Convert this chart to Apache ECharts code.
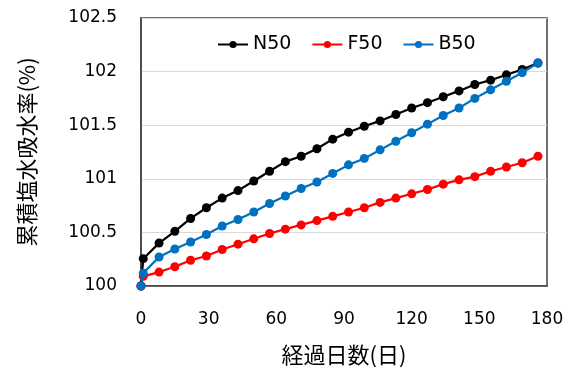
<!DOCTYPE html>
<html>
<head>
<meta charset="utf-8">
<script src="https://cdn.jsdelivr.net/npm/echarts@6/dist/echarts.min.js"></script>
<style>
html,body{margin:0;padding:0;background:#fff;}
#c{width:573px;height:371px;}
</style>
</head>
<body>
<div id="c"></div>
<script>
var days = [0, 1, 8, 15, 22, 29, 36, 43, 50, 57, 64, 71, 78, 85, 92, 99, 106, 113, 120, 127, 134, 141, 148, 155, 162, 169, 176];
var n50 = [100, 100.255, 100.40, 100.51, 100.63, 100.73, 100.82, 100.89, 100.98, 101.07, 101.16, 101.21, 101.28, 101.37, 101.435, 101.49, 101.54, 101.60, 101.66, 101.71, 101.765, 101.82, 101.88, 101.92, 101.97, 102.02, 102.08];
var f50 = [100, 100.09, 100.13, 100.18, 100.24, 100.28, 100.34, 100.39, 100.44, 100.49, 100.53, 100.57, 100.61, 100.65, 100.69, 100.73, 100.78, 100.82, 100.86, 100.90, 100.95, 100.99, 101.02, 101.07, 101.11, 101.15, 101.21];
var b50 = [100, 100.12, 100.27, 100.345, 100.41, 100.48, 100.56, 100.62, 100.69, 100.77, 100.84, 100.91, 100.97, 101.05, 101.13, 101.19, 101.27, 101.35, 101.43, 101.51, 101.59, 101.66, 101.75, 101.83, 101.91, 101.99, 102.08];
var seriesNames = ['N50', 'F50', 'B50'];
var seriesColors = ['#000000', '#FF0000', '#0070C0'];
var xTitle = '経過日数(日)';
var yTitle = '累積塩水吸水率(%)';

function pairs(ys) { return days.map(function (d, i) { return [d, ys[i]]; }); }
var allData = [n50, f50, b50];

var chart = echarts.init(document.getElementById('c'), null, {renderer: 'canvas'});
chart.setOption({
  animation: false,
  backgroundColor: '#ffffff',
  grid: {left: 141, right: 26, top: 18, bottom: 83, show: true, borderColor: '#404040', borderWidth: 1.5, backgroundColor: 'transparent'},
  legend: {
    left: 212, top: 30,
    itemWidth: 30, itemHeight: 9, itemGap: 20,
    textStyle: {fontFamily: 'DejaVu Sans', fontSize: 19, color: '#000'},
    data: seriesNames
  },
  xAxis: {
    type: 'value', min: 0, max: 180, interval: 30,
    axisLine: {show: true, lineStyle: {color: '#404040', width: 1.5}},
    axisTick: {show: false},
    splitLine: {show: false},
    axisLabel: {fontFamily: 'DejaVu Sans', fontSize: 17, color: '#000', margin: 25},
    name: xTitle, nameLocation: 'middle', nameGap: 58,
    nameTextStyle: {fontFamily: 'Noto Sans CJK JP', fontSize: 22, color: '#000'}
  },
  yAxis: {
    type: 'value', min: 100, max: 102.5, interval: 0.5,
    axisLine: {show: true, lineStyle: {color: '#404040', width: 1.5}},
    axisTick: {show: false},
    splitLine: {show: true, lineStyle: {color: '#d9d9d9', width: 1.2}},
    axisLabel: {fontFamily: 'DejaVu Sans', fontSize: 17, color: '#000', margin: 24},
    name: yTitle, nameLocation: 'middle', nameGap: 103, nameRotate: 90,
    nameTextStyle: {fontFamily: 'Noto Sans CJK JP', fontSize: 22, color: '#000'}
  },
  series: seriesNames.map(function (nm, i) {
    return {
      name: nm, type: 'line', data: pairs(allData[i]),
      symbol: 'circle', symbolSize: 9, showSymbol: true,
      itemStyle: {color: seriesColors[i]},
      lineStyle: {color: seriesColors[i], width: 2.2},
      z: 2 + i
    };
  })
});
</script>
</body>
</html>
